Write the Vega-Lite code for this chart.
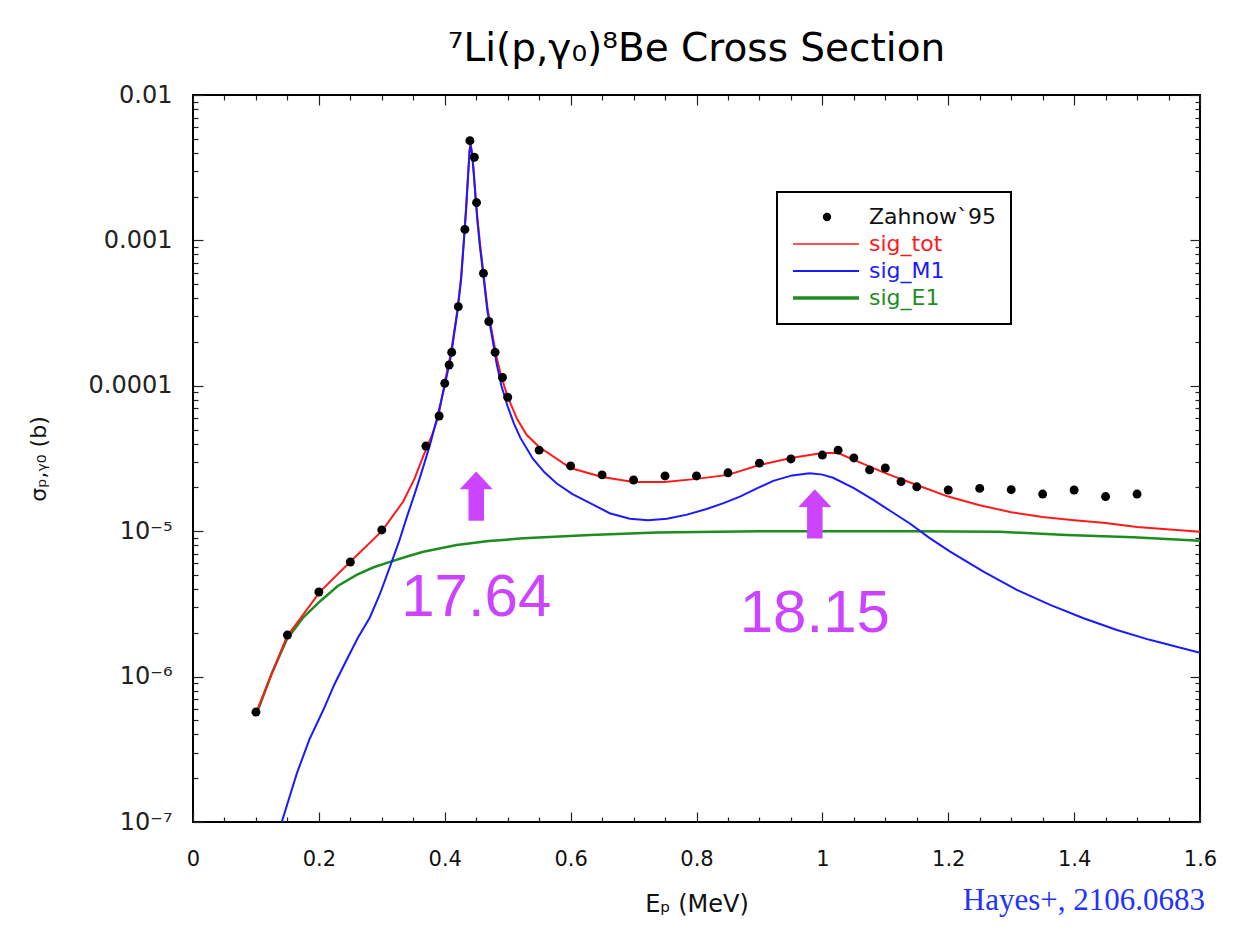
{
  "$schema": "https://vega.github.io/schema/vega-lite/v6.json",
  "width": 1007,
  "height": 727,
  "autosize": {"type": "none"},
  "padding": {"left": 193, "top": 95, "right": 40, "bottom": 120},
  "background": "white",
  "title": {
    "text": "⁷Li(p,γ₀)⁸Be Cross Section",
    "font": "DejaVu Sans",
    "fontSize": 39,
    "fontWeight": "normal",
    "color": "black",
    "anchor": "middle",
    "offset": 14
  },
  "config": {
    "view": {"stroke": "black", "strokeWidth": 2},
    "axis": {"grid": false, "domain": false, "tickColor": "#222", "tickWidth": 1.2},
    "legend": {"strokeWidth": 2}
  },
  "datasets": {
    "curves": [
      {"E": 0.100, "sigma": 5.6e-7, "series": "sig_tot"},
      {"E": 0.149, "sigma": 1.88e-6, "series": "sig_tot"},
      {"E": 0.202, "sigma": 3.84e-6, "series": "sig_tot"},
      {"E": 0.249, "sigma": 6.11e-6, "series": "sig_tot"},
      {"E": 0.300, "sigma": 1.0e-5, "series": "sig_tot"},
      {"E": 0.334, "sigma": 1.6e-5, "series": "sig_tot"},
      {"E": 0.352, "sigma": 2.3e-5, "series": "sig_tot"},
      {"E": 0.366, "sigma": 3.3e-5, "series": "sig_tot"},
      {"E": 0.379, "sigma": 4.5e-5, "series": "sig_tot"},
      {"E": 0.390, "sigma": 6.14e-5, "series": "sig_tot"},
      {"E": 0.400, "sigma": 1.06e-4, "series": "sig_tot"},
      {"E": 0.410, "sigma": 1.7e-4, "series": "sig_tot"},
      {"E": 0.420, "sigma": 3.3e-4, "series": "sig_tot"},
      {"E": 0.426, "sigma": 5.6e-4, "series": "sig_tot"},
      {"E": 0.430, "sigma": 9.6e-4, "series": "sig_tot"},
      {"E": 0.434, "sigma": 1.7e-3, "series": "sig_tot"},
      {"E": 0.437, "sigma": 2.8e-3, "series": "sig_tot"},
      {"E": 0.4395, "sigma": 4.2e-3, "series": "sig_tot"},
      {"E": 0.441, "sigma": 4.6e-3, "series": "sig_tot"},
      {"E": 0.4435, "sigma": 4.0e-3, "series": "sig_tot"},
      {"E": 0.446, "sigma": 3.0e-3, "series": "sig_tot"},
      {"E": 0.449, "sigma": 2.0e-3, "series": "sig_tot"},
      {"E": 0.452, "sigma": 1.4e-3, "series": "sig_tot"},
      {"E": 0.456, "sigma": 9.5e-4, "series": "sig_tot"},
      {"E": 0.461, "sigma": 6.2e-4, "series": "sig_tot"},
      {"E": 0.468, "sigma": 3.4e-4, "series": "sig_tot"},
      {"E": 0.475, "sigma": 2.35e-4, "series": "sig_tot"},
      {"E": 0.482, "sigma": 1.6e-4, "series": "sig_tot"},
      {"E": 0.490, "sigma": 1.15e-4, "series": "sig_tot"},
      {"E": 0.500, "sigma": 8.4e-5, "series": "sig_tot"},
      {"E": 0.515, "sigma": 5.9e-5, "series": "sig_tot"},
      {"E": 0.530, "sigma": 4.6e-5, "series": "sig_tot"},
      {"E": 0.550, "sigma": 3.79e-5, "series": "sig_tot"},
      {"E": 0.600, "sigma": 2.72e-5, "series": "sig_tot"},
      {"E": 0.650, "sigma": 2.36e-5, "series": "sig_tot"},
      {"E": 0.700, "sigma": 2.18e-5, "series": "sig_tot"},
      {"E": 0.750, "sigma": 2.18e-5, "series": "sig_tot"},
      {"E": 0.800, "sigma": 2.29e-5, "series": "sig_tot"},
      {"E": 0.850, "sigma": 2.44e-5, "series": "sig_tot"},
      {"E": 0.900, "sigma": 2.85e-5, "series": "sig_tot"},
      {"E": 0.950, "sigma": 3.19e-5, "series": "sig_tot"},
      {"E": 1.000, "sigma": 3.45e-5, "series": "sig_tot"},
      {"E": 1.025, "sigma": 3.45e-5, "series": "sig_tot"},
      {"E": 1.050, "sigma": 3.09e-5, "series": "sig_tot"},
      {"E": 1.100, "sigma": 2.51e-5, "series": "sig_tot"},
      {"E": 1.150, "sigma": 2.08e-5, "series": "sig_tot"},
      {"E": 1.200, "sigma": 1.73e-5, "series": "sig_tot"},
      {"E": 1.250, "sigma": 1.51e-5, "series": "sig_tot"},
      {"E": 1.300, "sigma": 1.35e-5, "series": "sig_tot"},
      {"E": 1.350, "sigma": 1.25e-5, "series": "sig_tot"},
      {"E": 1.400, "sigma": 1.19e-5, "series": "sig_tot"},
      {"E": 1.450, "sigma": 1.14e-5, "series": "sig_tot"},
      {"E": 1.500, "sigma": 1.07e-5, "series": "sig_tot"},
      {"E": 1.600, "sigma": 9.9e-6, "series": "sig_tot"},

      {"E": 0.141, "sigma": 1.0e-7, "series": "sig_M1"},
      {"E": 0.165, "sigma": 2.16e-7, "series": "sig_M1"},
      {"E": 0.185, "sigma": 3.7e-7, "series": "sig_M1"},
      {"E": 0.207, "sigma": 5.89e-7, "series": "sig_M1"},
      {"E": 0.225, "sigma": 8.9e-7, "series": "sig_M1"},
      {"E": 0.244, "sigma": 1.30e-6, "series": "sig_M1"},
      {"E": 0.262, "sigma": 1.85e-6, "series": "sig_M1"},
      {"E": 0.281, "sigma": 2.55e-6, "series": "sig_M1"},
      {"E": 0.297, "sigma": 3.7e-6, "series": "sig_M1"},
      {"E": 0.313, "sigma": 5.70e-6, "series": "sig_M1"},
      {"E": 0.327, "sigma": 8.4e-6, "series": "sig_M1"},
      {"E": 0.340, "sigma": 1.26e-5, "series": "sig_M1"},
      {"E": 0.353, "sigma": 1.85e-5, "series": "sig_M1"},
      {"E": 0.366, "sigma": 2.78e-5, "series": "sig_M1"},
      {"E": 0.377, "sigma": 4.0e-5, "series": "sig_M1"},
      {"E": 0.387, "sigma": 5.82e-5, "series": "sig_M1"},
      {"E": 0.400, "sigma": 1.0e-4, "series": "sig_M1"},
      {"E": 0.410, "sigma": 1.62e-4, "series": "sig_M1"},
      {"E": 0.420, "sigma": 3.2e-4, "series": "sig_M1"},
      {"E": 0.426, "sigma": 5.4e-4, "series": "sig_M1"},
      {"E": 0.430, "sigma": 9.3e-4, "series": "sig_M1"},
      {"E": 0.434, "sigma": 1.65e-3, "series": "sig_M1"},
      {"E": 0.437, "sigma": 2.75e-3, "series": "sig_M1"},
      {"E": 0.4395, "sigma": 4.1e-3, "series": "sig_M1"},
      {"E": 0.441, "sigma": 4.5e-3, "series": "sig_M1"},
      {"E": 0.4435, "sigma": 3.9e-3, "series": "sig_M1"},
      {"E": 0.446, "sigma": 2.9e-3, "series": "sig_M1"},
      {"E": 0.449, "sigma": 1.95e-3, "series": "sig_M1"},
      {"E": 0.452, "sigma": 1.35e-3, "series": "sig_M1"},
      {"E": 0.456, "sigma": 9.0e-4, "series": "sig_M1"},
      {"E": 0.461, "sigma": 5.9e-4, "series": "sig_M1"},
      {"E": 0.468, "sigma": 3.2e-4, "series": "sig_M1"},
      {"E": 0.475, "sigma": 2.2e-4, "series": "sig_M1"},
      {"E": 0.482, "sigma": 1.45e-4, "series": "sig_M1"},
      {"E": 0.490, "sigma": 1.0e-4, "series": "sig_M1"},
      {"E": 0.500, "sigma": 7.2e-5, "series": "sig_M1"},
      {"E": 0.510, "sigma": 5.5e-5, "series": "sig_M1"},
      {"E": 0.520, "sigma": 4.4e-5, "series": "sig_M1"},
      {"E": 0.540, "sigma": 3.15e-5, "series": "sig_M1"},
      {"E": 0.558, "sigma": 2.55e-5, "series": "sig_M1"},
      {"E": 0.578, "sigma": 2.13e-5, "series": "sig_M1"},
      {"E": 0.603, "sigma": 1.8e-5, "series": "sig_M1"},
      {"E": 0.631, "sigma": 1.56e-5, "series": "sig_M1"},
      {"E": 0.662, "sigma": 1.33e-5, "series": "sig_M1"},
      {"E": 0.694, "sigma": 1.22e-5, "series": "sig_M1"},
      {"E": 0.723, "sigma": 1.19e-5, "series": "sig_M1"},
      {"E": 0.753, "sigma": 1.22e-5, "series": "sig_M1"},
      {"E": 0.785, "sigma": 1.3e-5, "series": "sig_M1"},
      {"E": 0.816, "sigma": 1.42e-5, "series": "sig_M1"},
      {"E": 0.843, "sigma": 1.56e-5, "series": "sig_M1"},
      {"E": 0.869, "sigma": 1.73e-5, "series": "sig_M1"},
      {"E": 0.896, "sigma": 1.97e-5, "series": "sig_M1"},
      {"E": 0.922, "sigma": 2.22e-5, "series": "sig_M1"},
      {"E": 0.952, "sigma": 2.42e-5, "series": "sig_M1"},
      {"E": 0.980, "sigma": 2.50e-5, "series": "sig_M1"},
      {"E": 1.000, "sigma": 2.45e-5, "series": "sig_M1"},
      {"E": 1.017, "sigma": 2.33e-5, "series": "sig_M1"},
      {"E": 1.050, "sigma": 1.98e-5, "series": "sig_M1"},
      {"E": 1.081, "sigma": 1.64e-5, "series": "sig_M1"},
      {"E": 1.110, "sigma": 1.36e-5, "series": "sig_M1"},
      {"E": 1.139, "sigma": 1.13e-5, "series": "sig_M1"},
      {"E": 1.170, "sigma": 9.0e-6, "series": "sig_M1"},
      {"E": 1.203, "sigma": 7.23e-6, "series": "sig_M1"},
      {"E": 1.256, "sigma": 5.27e-6, "series": "sig_M1"},
      {"E": 1.309, "sigma": 3.95e-6, "series": "sig_M1"},
      {"E": 1.362, "sigma": 3.11e-6, "series": "sig_M1"},
      {"E": 1.415, "sigma": 2.52e-6, "series": "sig_M1"},
      {"E": 1.468, "sigma": 2.09e-6, "series": "sig_M1"},
      {"E": 1.520, "sigma": 1.79e-6, "series": "sig_M1"},
      {"E": 1.600, "sigma": 1.46e-6, "series": "sig_M1"},

      {"E": 0.100, "sigma": 5.4e-7, "series": "sig_E1"},
      {"E": 0.125, "sigma": 1.05e-6, "series": "sig_E1"},
      {"E": 0.149, "sigma": 1.8e-6, "series": "sig_E1"},
      {"E": 0.175, "sigma": 2.55e-6, "series": "sig_E1"},
      {"E": 0.202, "sigma": 3.3e-6, "series": "sig_E1"},
      {"E": 0.230, "sigma": 4.2e-6, "series": "sig_E1"},
      {"E": 0.260, "sigma": 5.0e-6, "series": "sig_E1"},
      {"E": 0.287, "sigma": 5.65e-6, "series": "sig_E1"},
      {"E": 0.313, "sigma": 6.15e-6, "series": "sig_E1"},
      {"E": 0.340, "sigma": 6.7e-6, "series": "sig_E1"},
      {"E": 0.366, "sigma": 7.22e-6, "series": "sig_E1"},
      {"E": 0.419, "sigma": 8.04e-6, "series": "sig_E1"},
      {"E": 0.470, "sigma": 8.55e-6, "series": "sig_E1"},
      {"E": 0.525, "sigma": 8.93e-6, "series": "sig_E1"},
      {"E": 0.631, "sigma": 9.42e-6, "series": "sig_E1"},
      {"E": 0.737, "sigma": 9.8e-6, "series": "sig_E1"},
      {"E": 0.900, "sigma": 1.0e-5, "series": "sig_E1"},
      {"E": 1.139, "sigma": 1.0e-5, "series": "sig_E1"},
      {"E": 1.282, "sigma": 9.9e-6, "series": "sig_E1"},
      {"E": 1.388, "sigma": 9.42e-6, "series": "sig_E1"},
      {"E": 1.494, "sigma": 9.08e-6, "series": "sig_E1"},
      {"E": 1.600, "sigma": 8.61e-6, "series": "sig_E1"}
    ],
    "zahnow": [
      {"E": 0.100, "sigma": 5.7e-7, "series": "Zahnow`95"},
      {"E": 0.150, "sigma": 1.93e-6, "series": "Zahnow`95"},
      {"E": 0.200, "sigma": 3.82e-6, "series": "Zahnow`95"},
      {"E": 0.250, "sigma": 6.14e-6, "series": "Zahnow`95"},
      {"E": 0.300, "sigma": 1.02e-5, "series": "Zahnow`95"},
      {"E": 0.370, "sigma": 3.85e-5, "series": "Zahnow`95"},
      {"E": 0.391, "sigma": 6.2e-5, "series": "Zahnow`95"},
      {"E": 0.400, "sigma": 1.04e-4, "series": "Zahnow`95"},
      {"E": 0.407, "sigma": 1.39e-4, "series": "Zahnow`95"},
      {"E": 0.411, "sigma": 1.7e-4, "series": "Zahnow`95"},
      {"E": 0.4215, "sigma": 3.5e-4, "series": "Zahnow`95"},
      {"E": 0.432, "sigma": 1.19e-3, "series": "Zahnow`95"},
      {"E": 0.440, "sigma": 4.85e-3, "series": "Zahnow`95"},
      {"E": 0.447, "sigma": 3.73e-3, "series": "Zahnow`95"},
      {"E": 0.4505, "sigma": 1.82e-3, "series": "Zahnow`95"},
      {"E": 0.4615, "sigma": 5.94e-4, "series": "Zahnow`95"},
      {"E": 0.470, "sigma": 2.77e-4, "series": "Zahnow`95"},
      {"E": 0.480, "sigma": 1.70e-4, "series": "Zahnow`95"},
      {"E": 0.4917, "sigma": 1.14e-4, "series": "Zahnow`95"},
      {"E": 0.500, "sigma": 8.34e-5, "series": "Zahnow`95"},
      {"E": 0.550, "sigma": 3.61e-5, "series": "Zahnow`95"},
      {"E": 0.600, "sigma": 2.81e-5, "series": "Zahnow`95"},
      {"E": 0.650, "sigma": 2.44e-5, "series": "Zahnow`95"},
      {"E": 0.700, "sigma": 2.25e-5, "series": "Zahnow`95"},
      {"E": 0.750, "sigma": 2.40e-5, "series": "Zahnow`95"},
      {"E": 0.800, "sigma": 2.40e-5, "series": "Zahnow`95"},
      {"E": 0.850, "sigma": 2.52e-5, "series": "Zahnow`95"},
      {"E": 0.900, "sigma": 2.94e-5, "series": "Zahnow`95"},
      {"E": 0.950, "sigma": 3.14e-5, "series": "Zahnow`95"},
      {"E": 1.000, "sigma": 3.34e-5, "series": "Zahnow`95"},
      {"E": 1.025, "sigma": 3.61e-5, "series": "Zahnow`95"},
      {"E": 1.050, "sigma": 3.19e-5, "series": "Zahnow`95"},
      {"E": 1.075, "sigma": 2.64e-5, "series": "Zahnow`95"},
      {"E": 1.100, "sigma": 2.72e-5, "series": "Zahnow`95"},
      {"E": 1.125, "sigma": 2.19e-5, "series": "Zahnow`95"},
      {"E": 1.150, "sigma": 2.02e-5, "series": "Zahnow`95"},
      {"E": 1.200, "sigma": 1.92e-5, "series": "Zahnow`95"},
      {"E": 1.250, "sigma": 1.97e-5, "series": "Zahnow`95"},
      {"E": 1.300, "sigma": 1.93e-5, "series": "Zahnow`95"},
      {"E": 1.350, "sigma": 1.80e-5, "series": "Zahnow`95"},
      {"E": 1.400, "sigma": 1.92e-5, "series": "Zahnow`95"},
      {"E": 1.450, "sigma": 1.73e-5, "series": "Zahnow`95"},
      {"E": 1.500, "sigma": 1.80e-5, "series": "Zahnow`95"}
    ],
    "arrows": [
      {"E": 0.450, "sigma": 1.73e-5},
      {"E": 0.988, "sigma": 1.31e-5}
    ],
    "labels": [
      {"E": 0.450, "sigma": 3.47e-6, "label": "17.64"},
      {"E": 0.988, "sigma": 2.70e-6, "label": "18.15"}
    ],
    "credit": [
      {"E": 1.608, "sigma": 2.86e-8, "label": "Hayes+, 2106.0683"}
    ]
  },
  "resolve": {"axis": {"x": "independent", "y": "independent"}},
  "layer": [
    {
      "data": {"name": "curves"},
      "transform": [{"filter": "datum.series === 'sig_E1'"}],
      "mark": {"type": "line", "strokeWidth": 2.5, "clip": true},
      "encoding": {
        "x": {
          "field": "E", "type": "quantitative",
          "scale": {"domain": [0, 1.6], "nice": false, "zero": false},
          "axis": {
            "orient": "top",
            "values": [0, 0.05, 0.1, 0.15, 0.2, 0.25, 0.3, 0.35, 0.4, 0.45, 0.5, 0.55, 0.6, 0.65, 0.7, 0.75, 0.8, 0.85, 0.9, 0.95, 1, 1.05, 1.1, 1.15, 1.2, 1.25, 1.3, 1.35, 1.4, 1.45, 1.5, 1.55, 1.6],
            "labels": false, "title": null,
            "tickSize": {"condition": {"test": "abs(datum.value*5 - round(datum.value*5)) < 0.001", "value": -10}, "value": -5}
          }
        },
        "y": {
          "field": "sigma", "type": "quantitative",
          "scale": {"type": "log", "domain": [1e-7, 0.01], "nice": false},
          "axis": {
            "orient": "right",
            "values": [1e-7, 2e-7, 3e-7, 4e-7, 5e-7, 6e-7, 7e-7, 8e-7, 9e-7, 1e-6, 2e-6, 3e-6, 4e-6, 5e-6, 6e-6, 7e-6, 8e-6, 9e-6, 1e-5, 2e-5, 3e-5, 4e-5, 5e-5, 6e-5, 7e-5, 8e-5, 9e-5, 0.0001, 0.0002, 0.0003, 0.0004, 0.0005, 0.0006, 0.0007, 0.0008, 0.0009, 0.001, 0.002, 0.003, 0.004, 0.005, 0.006, 0.007, 0.008, 0.009, 0.01],
            "labels": false, "title": null,
            "tickSize": {"condition": {"test": "abs(log(datum.value)/LN10 - round(log(datum.value)/LN10)) < 0.001", "value": -10}, "value": -5}
          }
        },
        "color": {
          "field": "series", "type": "nominal",
          "scale": {"domain": ["Zahnow`95", "sig_tot", "sig_M1", "sig_E1"], "range": ["#000000", "#ff1a1a", "#1a1aff", "#1e8c1e"]},
          "legend": {
            "orient": "none", "legendX": 584, "legendY": 97,
            "title": null, "padding": 15,
            "strokeColor": "black", "fillColor": "white",
            "symbolType": {"expr": "datum.value === 'Zahnow`95' ? 'M0.611,0A0.105,0.105,0,1,1,0.821,0A0.105,0.105,0,1,1,0.611,0Z' : 'M-0.2985,0L1.672,0'"},
            "symbolSize": 4489, "clipHeight": 20,
            "symbolFillColor": {"expr": "datum.value === 'Zahnow`95' ? 'black' : 'transparent'"},
            "symbolStrokeWidth": {"expr": "datum.value === 'sig_E1' ? 3.5 : (datum.value === 'sig_M1' ? 2 : 1.3)"},
            "symbolOpacity": 1,
            "rowPadding": 5, "labelOffset": 55,
            "labelFont": "DejaVu Sans", "labelFontSize": 22, "labelLimit": 300,
            "labelColor": {"expr": "datum.value === 'sig_tot' ? '#ff1a1a' : (datum.value === 'sig_M1' ? '#1a1aff' : (datum.value === 'sig_E1' ? '#1e8c1e' : '#111111'))"}
          }
        }
      }
    },
    {
      "data": {"name": "curves"},
      "transform": [{"filter": "datum.series === 'sig_tot'"}],
      "mark": {"type": "line", "strokeWidth": 2, "clip": true},
      "encoding": {
        "x": {
          "field": "E", "type": "quantitative",
          "axis": {
            "orient": "bottom",
            "values": [0, 0.05, 0.1, 0.15, 0.2, 0.25, 0.3, 0.35, 0.4, 0.45, 0.5, 0.55, 0.6, 0.65, 0.7, 0.75, 0.8, 0.85, 0.9, 0.95, 1, 1.05, 1.1, 1.15, 1.2, 1.25, 1.3, 1.35, 1.4, 1.45, 1.5, 1.55, 1.6],
            "format": "~g",
            "labelExpr": "abs(datum.value*5 - round(datum.value*5)) < 0.001 ? datum.label : ''",
            "tickSize": {"condition": {"test": "abs(datum.value*5 - round(datum.value*5)) < 0.001", "value": -10}, "value": -5},
            "labelFont": "DejaVu Sans", "labelFontSize": 21, "labelColor": "#111",
            "labelPadding": 36, "labelFlush": false, "labelOverlap": false,
            "title": "Eₚ (MeV)", "titleFont": "DejaVu Sans", "titleFontSize": 24,
            "titleFontWeight": "normal", "titleColor": "#111", "titlePadding": 18
          }
        },
        "y": {
          "field": "sigma", "type": "quantitative",
          "axis": {
            "orient": "left",
            "values": [1e-7, 2e-7, 3e-7, 4e-7, 5e-7, 6e-7, 7e-7, 8e-7, 9e-7, 1e-6, 2e-6, 3e-6, 4e-6, 5e-6, 6e-6, 7e-6, 8e-6, 9e-6, 1e-5, 2e-5, 3e-5, 4e-5, 5e-5, 6e-5, 7e-5, 8e-5, 9e-5, 0.0001, 0.0002, 0.0003, 0.0004, 0.0005, 0.0006, 0.0007, 0.0008, 0.0009, 0.001, 0.002, 0.003, 0.004, 0.005, 0.006, 0.007, 0.008, 0.009, 0.01],
            "labelExpr": "abs(log(datum.value)/LN10 - round(log(datum.value)/LN10)) < 0.001 ? (datum.value > 5e-5 ? format(datum.value, '~g') : (datum.value < 5e-7 ? '10⁻⁷' : (datum.value < 5e-6 ? '10⁻⁶' : '10⁻⁵'))) : ''",
            "tickSize": {"condition": {"test": "abs(log(datum.value)/LN10 - round(log(datum.value)/LN10)) < 0.001", "value": -10}, "value": -5},
            "labelFont": "DejaVu Sans", "labelFontSize": 24, "labelColor": "#222",
            "labelPadding": 31, "labelFlush": false, "labelOverlap": false,
            "title": "σₚ,ᵧ₀ (b)", "titleFont": "DejaVu Sans", "titleFontSize": 22,
            "titleFontWeight": "normal", "titleColor": "#111", "titlePadding": 38
          }
        },
        "color": {"field": "series", "type": "nominal"}
      }
    },
    {
      "data": {"name": "curves"},
      "transform": [{"filter": "datum.series === 'sig_M1'"}],
      "mark": {"type": "line", "strokeWidth": 2, "clip": true},
      "encoding": {
        "x": {"field": "E", "type": "quantitative", "axis": null},
        "y": {"field": "sigma", "type": "quantitative", "axis": null},
        "color": {"field": "series", "type": "nominal"}
      }
    },
    {
      "data": {"name": "zahnow"},
      "mark": {"type": "point", "filled": true, "size": 80, "opacity": 1},
      "encoding": {
        "x": {"field": "E", "type": "quantitative", "axis": null},
        "y": {"field": "sigma", "type": "quantitative", "axis": null},
        "color": {"field": "series", "type": "nominal"}
      }
    },
    {
      "data": {"name": "arrows"},
      "mark": {"type": "point", "filled": true, "opacity": 1, "size": 2500, "color": "#cc44ff", "strokeWidth": 0,
        "shape": "M0,-1L0.66,-0.29L0.31,-0.29L0.31,0.97L-0.31,0.97L-0.31,-0.29L-0.66,-0.29Z"},
      "encoding": {
        "x": {"field": "E", "type": "quantitative", "axis": null},
        "y": {"field": "sigma", "type": "quantitative", "axis": null}
      }
    },
    {
      "data": {"name": "labels"},
      "mark": {"type": "text", "font": "Liberation Sans", "fontSize": 60, "color": "#cc44ff", "align": "center", "baseline": "middle"},
      "encoding": {
        "x": {"field": "E", "type": "quantitative", "axis": null},
        "y": {"field": "sigma", "type": "quantitative", "axis": null},
        "text": {"field": "label"}
      }
    },
    {
      "data": {"name": "credit"},
      "mark": {"type": "text", "font": "Liberation Serif", "fontSize": 31, "color": "#2233ff", "align": "right", "baseline": "middle"},
      "encoding": {
        "x": {"field": "E", "type": "quantitative", "axis": null},
        "y": {"field": "sigma", "type": "quantitative", "axis": null},
        "text": {"field": "label"}
      }
    }
  ]
}
